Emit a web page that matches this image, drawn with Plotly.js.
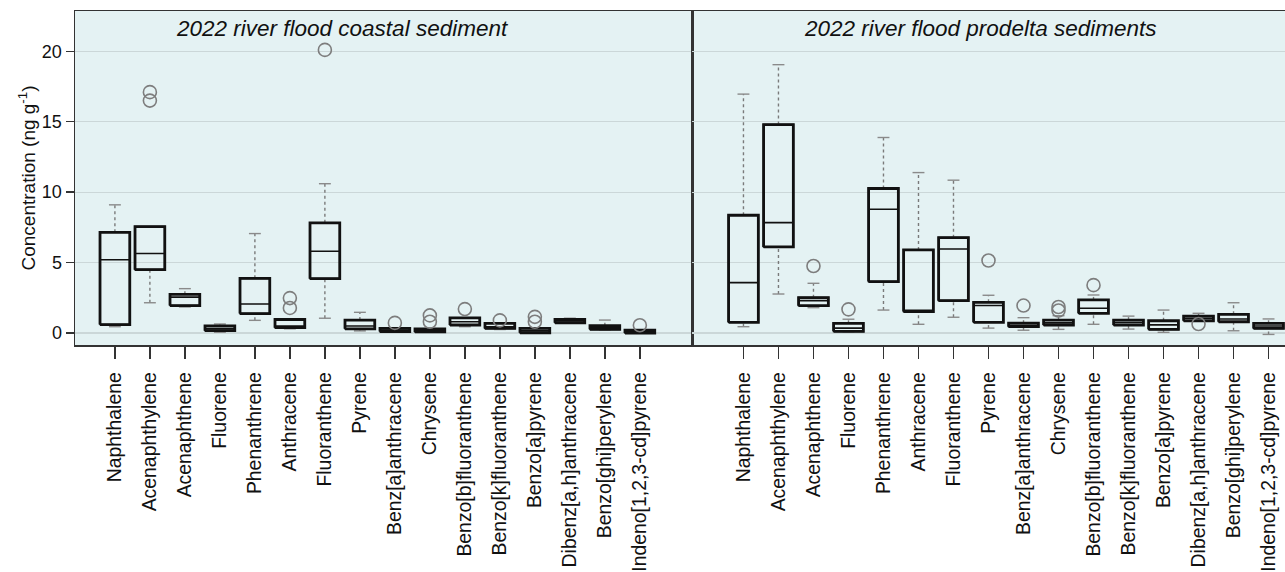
<!DOCTYPE html>
<html>
<head>
<meta charset="utf-8">
<script src="https://cdn.plot.ly/plotly-3.0.1.min.js"></script>
<style>html,body{margin:0;padding:0;background:#fff;}#chart{width:1285px;height:572px;}</style>
</head>
<body>
<div id="chart"></div>
<script>
const categories = ["Naphthalene","Acenaphthylene","Acenaphthene","Fluorene","Phenanthrene","Anthracene","Fluoranthene","Pyrene","Benz[a]anthracene","Chrysene","Benzo[b]fluoranthene","Benzo[k]fluoranthene","Benzo[a]pyrene","Dibenz[a,h]anthracene","Benzo[ghi]perylene","Indeno[1,2,3-cd]pyrene"];
const panelTitles = ["2022 river flood coastal sediment", "2022 river flood prodelta sediments"];

// 2022 river flood coastal sediment
const coastalMin    = [0.45, 2.15, 1.85, 0.05, 0.90, 0.30, 1.05, 0.15, 0.05, 0.05, 0.45, 0.25, 0.00, 0.70, 0.20, 0.00];
const coastalQ1     = [0.60, 4.50, 1.95, 0.17, 1.38, 0.38, 3.86, 0.30, 0.10, 0.08, 0.57, 0.33, 0.02, 0.73, 0.26, 0.00];
const coastalMedian = [5.20, 5.65, 2.55, 0.30, 2.06, 0.50, 5.80, 0.50, 0.20, 0.20, 0.80, 0.45, 0.15, 0.85, 0.40, 0.10];
const coastalQ3     = [7.15, 7.55, 2.75, 0.50, 3.88, 0.96, 7.82, 0.92, 0.33, 0.30, 1.07, 0.69, 0.33, 0.97, 0.52, 0.21];
const coastalMax    = [9.10, 7.55, 3.15, 0.64, 7.06, 0.96, 10.60, 1.47, 0.33, 0.30, 1.07, 0.69, 0.33, 1.05, 0.92, 0.21];
const coastalOutliers = [[], [16.5, 17.1], [], [], [], [1.78, 2.48], [20.1], [], [0.72], [0.80, 1.25], [1.70], [0.90], [0.80, 1.15], [], [], [0.55]];

// 2022 river flood prodelta sediments
const prodeltaMin    = [0.45, 2.77, 1.80, 0.05, 1.63, 0.62, 1.12, 0.35, 0.20, 0.26, 0.62, 0.28, 0.05, 0.87, 0.16, -0.10];
const prodeltaQ1     = [0.76, 6.11, 1.94, 0.12, 3.65, 1.52, 2.30, 0.76, 0.45, 0.57, 1.40, 0.57, 0.26, 0.87, 0.80, 0.33];
const prodeltaMedian = [3.58, 7.84, 2.30, 0.35, 8.79, 1.62, 5.97, 1.95, 0.55, 0.72, 1.76, 0.75, 0.58, 1.05, 1.00, 0.50];
const prodeltaQ3     = [8.36, 14.80, 2.51, 0.69, 10.26, 5.90, 6.77, 2.18, 0.70, 0.92, 2.35, 0.92, 0.87, 1.20, 1.33, 0.69];
const prodeltaMax    = [16.96, 19.05, 3.53, 0.98, 13.88, 11.39, 10.85, 2.68, 1.09, 1.23, 2.70, 1.20, 1.63, 1.40, 2.15, 1.00];
const prodeltaOutliers = [[], [], [4.76], [1.68], [], [], [], [5.15], [1.95], [1.60, 1.85], [3.40], [], [], [0.64], [], []];

const FONT = "Liberation Sans, Arial, Helvetica, sans-serif";
const BOX_W = 0.85, CAP_W = 0.17;
const pos = categories.map((c, i) => i);

function panelTraces(xa, ya, mn, q1, med, q3, mx, outl) {
  const traces = [];
  const wx = [], wy = [];
  const cx = [], cy = [];
  pos.forEach(i => {
    if (mx[i] > q3[i]) { wx.push(i, i, null); wy.push(q3[i], mx[i], null); cx.push(i - CAP_W, i + CAP_W, null); cy.push(mx[i], mx[i], null); }
    if (mn[i] < q1[i]) { wx.push(i, i, null); wy.push(mn[i], q1[i], null); cx.push(i - CAP_W, i + CAP_W, null); cy.push(mn[i], mn[i], null); }
  });
  traces.push({type: 'scatter', mode: 'lines', x: wx, y: wy, xaxis: xa, yaxis: ya,
    line: {color: '#7a7a7a', width: 1.4, dash: 'dot'}, hoverinfo: 'skip', showlegend: false});
  traces.push({type: 'scatter', mode: 'lines', x: cx, y: cy, xaxis: xa, yaxis: ya,
    line: {color: '#8a8a8a', width: 1.4}, hoverinfo: 'skip', showlegend: false});
  traces.push({type: 'box', x: pos, q1: q1, median: med, q3: q3, lowerfence: q1, upperfence: q3,
    xaxis: xa, yaxis: ya, width: BOX_W, whiskerwidth: 0, boxpoints: false,
    line: {color: '#111', width: 1.6}, fillcolor: 'rgba(0,0,0,0)', showlegend: false, hoverinfo: 'skip'});
  const bx = [], by = [];
  const h = BOX_W / 2;
  pos.forEach(i => {
    bx.push(i - h, i + h, i + h, i - h, i - h, null);
    by.push(q1[i], q1[i], q3[i], q3[i], q1[i], null);
  });
  traces.push({type: 'scatter', mode: 'lines', x: bx, y: by, xaxis: xa, yaxis: ya,
    line: {color: '#111', width: 2.8}, hoverinfo: 'skip', showlegend: false});
  const ox = [], oy = [];
  outl.forEach((arr, i) => arr.forEach(v => { ox.push(i); oy.push(v); }));
  traces.push({type: 'scatter', mode: 'markers', x: ox, y: oy, xaxis: xa, yaxis: ya,
    marker: {symbol: 'circle-open', size: 13, color: '#7d7d7d', line: {width: 1.6, color: '#7d7d7d'}},
    hoverinfo: 'skip', showlegend: false});
  return traces;
}

const data = [].concat(
  panelTraces('x', 'y', coastalMin, coastalQ1, coastalMedian, coastalQ3, coastalMax, coastalOutliers),
  panelTraces('x2', 'y2', prodeltaMin, prodeltaQ1, prodeltaMedian, prodeltaQ3, prodeltaMax, prodeltaOutliers)
);

const yRange = [-0.85, 22.86];
const split = (692 - 75) / 1210;
const xCommon = {
  tickmode: 'array', tickvals: pos, ticktext: categories, tickangle: -90,
  ticks: 'outside', ticklen: 12, tickwidth: 1.5, tickcolor: '#333',
  tickfont: {family: FONT, size: 19.4, color: '#111'},
  showgrid: false, zeroline: false, showline: true, mirror: true, linecolor: '#333', linewidth: 1.5,
  ticklabelstandoff: 6, fixedrange: true
};
const yCommon = {
  range: yRange, tickvals: [0, 5, 10, 15, 20], showgrid: true, gridcolor: '#cbd7d8', gridwidth: 1.2,
  zeroline: false, showline: true, mirror: true, linecolor: '#333', linewidth: 1.5, fixedrange: true
};

const layout = {
  width: 1285, height: 572,
  margin: {l: 75, r: 0, t: 11, b: 227, autoexpand: false},
  paper_bgcolor: '#ffffff', plot_bgcolor: '#e4f2f3',
  showlegend: false,
  xaxis: Object.assign({}, xCommon, {domain: [0, split], range: [-1.14, 16.49], anchor: 'y'}),
  xaxis2: Object.assign({}, xCommon, {domain: [split, 1], range: [-1.47, 15.47], anchor: 'y2'}),
  yaxis: Object.assign({}, yCommon, {domain: [0, 1], anchor: 'x',
    ticks: 'outside', ticklen: 8, tickwidth: 1.5, tickcolor: '#333',
    tickfont: {family: FONT, size: 18, color: '#111'},
    title: {text: 'Concentration (ng g<sup>-1</sup>)', font: {family: FONT, size: 19, color: '#111'}, standoff: 1}}),
  yaxis2: Object.assign({}, yCommon, {domain: [0, 1], anchor: 'x2', showticklabels: false, ticks: ''}),
  annotations: [
    {xref: 'x', yref: 'y', x: 6.5, y: 21.6, text: '<i>' + panelTitles[0] + '</i>', showarrow: false,
     xanchor: 'center', yanchor: 'middle', font: {family: FONT, size: 22.5, color: '#111'}},
    {xref: 'x2', yref: 'y2', x: 6.75, y: 21.6, text: '<i>' + panelTitles[1] + '</i>', showarrow: false,
     xanchor: 'center', yanchor: 'middle', font: {family: FONT, size: 22.5, color: '#111'}}
  ]
};

Plotly.newPlot('chart', data, layout, {staticPlot: true, displayModeBar: false});
</script>
</body>
</html>
